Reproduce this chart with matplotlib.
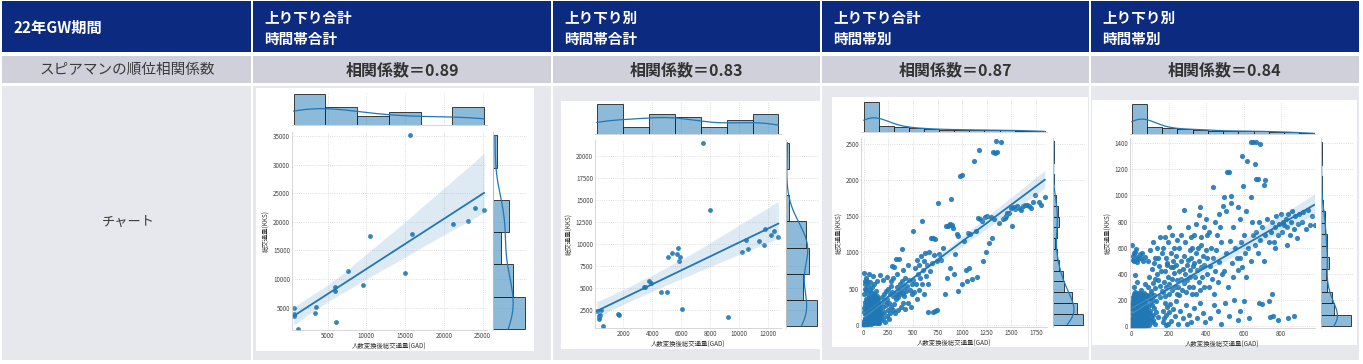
import numpy as np
import matplotlib.pyplot as plt
import seaborn as sns
from matplotlib.patches import Rectangle

# ---- table text ----
period_label = "22年GW期間"
col_titles = [("上り下り合計", "時間帯合計"), ("上り下り別", "時間帯合計"),
              ("上り下り合計", "時間帯別"), ("上り下り別", "時間帯別")]
corr_row_label = "スピアマンの順位相関係数"
corr_values = [0.89, 0.83, 0.87, 0.84]
chart_row_label = "チャート"
x_label = "人数変換後総交通量(GAD)"
y_label = "総交通量(KKS)"

# ---- chart 1: 上り下り合計 / 時間帯合計 ----
gad1 = [600, 700, 600, 650, 1200, 3450, 3400, 5900, 5900, 6100, 7600, 9550, 10500,
        15050, 15900, 15600, 21150, 23100, 24000, 25200]
kks1 = [4900, 3950, 3550, 3700, 1300, 5200, 4070, 8650, 8000, 2550, 11400, 8950, 17500,
        11150, 17850, 35100, 19700, 20100, 22400, 22050]

# ---- chart 2: 上り下り別 / 時間帯合計 ----
gad2 = [160, 400, 340, 300, 440, 620, 1650, 1700, 350, 3450, 3500, 3800, 3900, 4600, 5000,
        5100, 5350, 5700, 5800, 5900, 5850, 6050, 7500, 8000, 9200, 10150, 10450, 10600,
        11350, 11700, 11750, 12150, 12400, 12700]
kks2 = [2450, 2000, 1700, 1560, 2575, 700, 2100, 2000, 1900, 5200, 5150, 5800, 5600, 4550, 4550,
        8500, 9000, 8900, 9550, 8600, 8050, 2650, 21500, 13900, 1700, 9150, 10500, 9450,
        10400, 9900, 11700, 11050, 11450, 10800]

# ---- chart 3: 上り下り合計 / 時間帯別  (GAD, KKS) ----
pts3_origin_low = [
    (0, 0), (2, 8), (3, 30), (5, 15), (6, 45), (8, 3), (9, 70), (10, 25), (11, 18), (12, 40),
    (14, 95), (15, 8), (16, 5), (18, 60), (19, 120), (20, 15), (21, 38), (22, 90), (24, 65),
    (25, 30), (27, 140), (28, 110), (29, 10), (30, 50), (33, 88), (35, 20), (36, 115), (38, 75),
    (39, 28), (41, 52), (42, 35), (44, 78), (47, 130), (48, 55), (49, 12), (50, 100), (53, 95),
    (55, 70), (56, 35), (59, 150), (61, 20), (62, 45), (64, 110), (67, 48), (69, 80), (70, 90),
    (73, 135), (76, 15), (78, 120), (79, 60), (82, 60), (83, 100), (86, 40), (89, 125), (93, 75),
    (96, 25), (98, 110), (103, 55), (105, 140), (106, 95), (109, 35), (110, 80), (113, 120),
    (116, 65), (122, 130), (123, 20), (126, 90), (129, 45), (135, 100), (136, 70), (139, 110),
    (143, 30), (145, 150), (146, 85), (149, 55), (152, 140)]
pts3_origin_mid = [
    (4, 180), (7, 230), (13, 270), (17, 310), (23, 350), (26, 200), (31, 280), (32, 140),
    (34, 320), (37, 240), (40, 160), (43, 300), (45, 190), (46, 370), (51, 260), (52, 210),
    (54, 330), (57, 190), (58, 130), (60, 240), (63, 290), (65, 170), (66, 350), (68, 260),
    (71, 270), (72, 200), (74, 220), (75, 300), (77, 380), (80, 230), (81, 310), (84, 200),
    (85, 280), (87, 340), (88, 150), (90, 320), (91, 260), (92, 180), (94, 390), (95, 250),
    (97, 300), (100, 340), (101, 230), (102, 200), (104, 280), (107, 360), (108, 290), (111, 300),
    (112, 360), (114, 250), (115, 220), (117, 330), (118, 170), (120, 310), (121, 270), (124, 210),
    (125, 380), (127, 300), (128, 250), (130, 190), (131, 360), (132, 330), (134, 240), (137, 320),
    (138, 270), (140, 400), (141, 280), (142, 210), (144, 230), (147, 300), (148, 350), (150, 240),
    (151, 180), (154, 260)]
pts3_origin_high = [
    (5, 420), (8, 720), (10, 500), (12, 610), (15, 560), (20, 650), (25, 480), (30, 600),
    (40, 540), (45, 430), (55, 700), (60, 480), (60, 590), (70, 450), (85, 520), (95, 680),
    (100, 430), (110, 560), (130, 470), (140, 610)]
pts3_low = [
    (160, 30), (165, 120), (170, 210), (175, 300), (180, 60), (185, 380), (190, 150), (195, 250),
    (200, 90), (205, 420), (210, 180), (215, 330), (220, 40), (225, 270), (230, 460), (235, 120),
    (240, 360), (245, 210), (250, 500), (255, 80), (260, 300), (265, 420), (270, 160), (275, 540),
    (280, 250), (285, 810), (290, 450), (295, 200), (300, 390), (302, 640), (305, 290), (310, 800),
    (170, 690), (200, 620), (240, 660), (280, 600), (315, 160), (320, 420), (325, 350), (330, 910),
    (335, 520), (340, 430), (345, 200), (350, 380), (355, 470), (360, 910), (365, 560), (370, 420),
    (375, 250), (380, 480), (385, 1050), (390, 600), (395, 440), (400, 300), (405, 520), (410, 400),
    (415, 650), (420, 220), (430, 460), (440, 540), (450, 300), (460, 620), (340, 700), (400, 760),
    (450, 820)]
pts3_mid = [
    (470, 480), (480, 250), (490, 560), (495, 420), (500, 1295), (505, 620), (510, 450), (520, 780),
    (530, 560), (540, 900), (545, 350), (550, 700), (560, 820), (565, 480), (575, 640), (580, 950),
    (590, 1440), (595, 560), (600, 760), (610, 880), (615, 420), (620, 990), (630, 680), (640, 820),
    (650, 560), (655, 180), (660, 1000), (670, 740), (680, 1200), (690, 860), (700, 1200), (700, 175),
    (710, 960), (720, 1190), (720, 190), (740, 200), (740, 880), (760, 1690), (770, 980), (790, 900),
    (810, 1060), (830, 420), (840, 1370), (850, 640), (860, 1360), (870, 1380), (875, 780),
    (880, 1390), (885, 1740), (900, 1380), (910, 1340), (920, 700), (930, 980)]
pts3_high = [
    (950, 1260), (960, 1230), (975, 2060), (1000, 2070), (1000, 560), (1020, 1160), (1040, 750),
    (1060, 1270), (1070, 780), (1080, 1250), (960, 470), (1050, 600), (1100, 630), (1125, 2270),
    (1140, 1300), (1160, 1480), (1175, 2420), (1180, 1460), (1200, 1430), (1210, 880), (1230, 1490),
    (1240, 1000), (1150, 660), (1250, 1500), (1270, 1130), (1290, 1490), (1310, 2390), (1320, 1460),
    (1330, 2380), (1340, 2540), (1350, 2385), (1370, 1410), (1395, 2525), (1300, 1200),
    (1420, 1460), (1440, 1470), (1450, 1500), (1460, 1540), (1480, 1550), (1500, 1620), (1510, 1360),
    (1520, 1630), (1540, 1600), (1560, 1640), (1580, 1610), (1600, 1590), (1620, 1640), (1640, 1650),
    (1660, 1660), (1680, 1640), (1700, 1620), (1720, 1700), (1740, 1800), (1780, 1700), (1800, 1660),
    (1840, 1760)]

# ---- chart 4: 上り下り別 / 時間帯別  (GAD, KKS) ----
pts4_origin_low = [
    (0, 0), (1, 5), (2, 12), (3, 2), (4, 20), (5, 8), (6, 30), (7, 15), (8, 45), (9, 4), (10, 25),
    (11, 60), (12, 10), (13, 35), (14, 70), (15, 18), (16, 50), (17, 80), (18, 6), (19, 40), (20, 65),
    (21, 22), (22, 85), (23, 12), (24, 55), (25, 33), (26, 75), (27, 3), (28, 48), (29, 28), (30, 68),
    (31, 14), (32, 58), (33, 38), (34, 82), (35, 9), (36, 44), (37, 24), (38, 72), (39, 17), (40, 52),
    (41, 32), (42, 86), (43, 6), (44, 62), (45, 27), (46, 77), (47, 11), (48, 47), (49, 36), (50, 66),
    (51, 19), (52, 56), (53, 3), (54, 79), (55, 41), (56, 26), (57, 71), (58, 13), (59, 51), (60, 34),
    (61, 84), (62, 8), (63, 61), (64, 23), (65, 74), (66, 43), (67, 16), (68, 57), (69, 31), (70, 81),
    (71, 5), (72, 46), (73, 21), (74, 69), (75, 39), (76, 12), (77, 63), (78, 29), (79, 54), (80, 7),
    (81, 42), (82, 76), (2, 40), (4, 65), (6, 10), (9, 55), (11, 30), (14, 5), (16, 75), (19, 20),
    (21, 50), (24, 80), (26, 15), (29, 60), (31, 42), (34, 3), (36, 66), (39, 25), (41, 78), (44, 12),
    (46, 53), (49, 70), (51, 35), (54, 9), (56, 83), (59, 18), (61, 48), (64, 73), (66, 27), (69, 4),
    (71, 58), (74, 36), (76, 85), (79, 14), (3, 50), (13, 22), (23, 68), (33, 15), (43, 45), (53, 28),
    (63, 80), (73, 10), (8, 35), (18, 88)]
pts4_origin_mid = [
    (1, 100), (3, 130), (5, 160), (7, 95), (9, 140), (11, 115), (13, 170), (15, 105), (17, 150),
    (19, 125), (21, 165), (23, 92), (25, 135), (27, 110), (29, 155), (31, 98), (33, 145), (35, 120),
    (37, 172), (39, 102), (41, 138), (43, 160), (45, 90), (47, 128), (49, 150), (51, 112), (53, 168),
    (55, 96), (57, 142), (59, 118), (61, 158), (63, 105), (65, 132), (67, 170), (69, 100), (71, 148),
    (73, 122), (75, 162), (77, 94), (79, 136), (81, 110), (4, 145), (24, 118), (44, 132), (64, 150),
    (2, 180), (6, 220), (10, 250), (14, 195), (18, 240), (22, 185), (26, 230), (30, 205), (34, 255),
    (38, 190), (42, 225), (46, 245), (50, 178), (54, 210), (58, 238), (62, 200), (66, 252), (70, 185),
    (74, 228), (78, 215), (82, 240), (8, 200), (20, 260), (32, 176), (44, 210), (56, 190), (68, 230),
    (12, 235), (36, 215), (60, 182)]
pts4_origin_high = [
    (10, 300), (30, 340), (50, 280), (20, 390), (70, 320), (2, 620), (5, 540), (8, 510), (10, 560),
    (14, 500), (18, 565), (22, 590), (26, 530), (30, 490), (36, 511), (42, 550), (48, 520), (54, 557),
    (60, 500), (71, 531)]
pts4_low = [
    (84, 20), (86, 150), (88, 60), (90, 230), (92, 100), (94, 10), (96, 180), (98, 45), (100, 120),
    (102, 210), (104, 75), (106, 250), (108, 30), (110, 160), (112, 90), (114, 200), (116, 50),
    (118, 140), (120, 240), (124, 15), (128, 110), (132, 190), (140, 70), (150, 220), (89, 300),
    (95, 380), (103, 270), (109, 440), (115, 330), (121, 480), (127, 290), (133, 400), (139, 350),
    (145, 460), (151, 310), (157, 420), (161, 270), (125, 360), (89, 498), (100, 580), (115, 640),
    (125, 520), (134, 595), (143, 519), (150, 680), (160, 560), (166, 30), (170, 120), (174, 60),
    (178, 180), (182, 10), (186, 90), (190, 150), (196, 20), (200, 110), (206, 170), (212, 40),
    (220, 130), (230, 80), (240, 190), (168, 260), (172, 340), (176, 420), (180, 230), (184, 300),
    (188, 480), (192, 380), (198, 250), (202, 320), (208, 450), (214, 280), (218, 360), (222, 500),
    (226, 410), (232, 300), (236, 470), (242, 350), (191, 468), (223, 455), (244, 250), (170, 600),
    (179, 685), (185, 520), (196, 640), (200, 761), (210, 560), (218, 700), (228, 600), (235, 540),
    (244, 660)]
pts4_mid = [
    (250, 20), (260, 120), (275, 60), (290, 160), (295, 20), (305, 90), (320, 30), (248, 300),
    (252, 420), (256, 240), (262, 360), (266, 500), (270, 280), (274, 440), (278, 330), (282, 540),
    (286, 400), (290, 260), (294, 470), (298, 350), (302, 510), (306, 300), (310, 430), (314, 380),
    (318, 520), (322, 250), (326, 460), (255, 600), (265, 700), (280, 889), (288, 640), (300, 760),
    (310, 580), (318, 680), (325, 600), (335, 140), (350, 60), (365, 180), (380, 100), (393, 33),
    (330, 300), (334, 480), (338, 380), (342, 560), (346, 250), (350, 430), (354, 600), (358, 340),
    (362, 500), (366, 280), (370, 450), (374, 620), (378, 380), (382, 540), (386, 300), (390, 470),
    (396, 580), (402, 400), (406, 520), (332, 700), (345, 780), (360, 850), (366, 910), (372, 680),
    (385, 760), (398, 820), (405, 700), (420, 60), (440, 160), (460, 120), (480, 20), (412, 300),
    (418, 460), (424, 600), (430, 360), (436, 520), (442, 250), (448, 420), (454, 580), (462, 340),
    (470, 490), (478, 640), (486, 400), (415, 720), (438, 1060), (445, 800), (458, 700), (466, 860),
    (475, 760), (488, 920)]
pts4_high = [
    (500, 180), (520, 80), (550, 200), (568, 46), (495, 420), (505, 560), (515, 300), (525, 650),
    (535, 480), (545, 380), (555, 600), (562, 520), (570, 430), (497, 991), (504, 884), (509, 1178),
    (522, 1178), (530, 996), (530, 945), (545, 760), (571, 910), (580, 120), (600, 190), (630, 60),
    (578, 520), (585, 640), (592, 450), (600, 700), (608, 560), (615, 380), (625, 600), (640, 500),
    (650, 700), (589, 1298), (598, 1073), (616, 1260), (638, 1405), (639, 986), (652, 1408),
    (580, 820), (610, 880), (645, 800), (680, 180), (697, 174), (734, 192), (660, 620), (668, 720),
    (675, 560), (682, 800), (690, 660), (700, 760), (708, 500), (715, 700), (725, 820), (735, 640),
    (661, 1242), (664, 1408), (664, 1124), (688, 1393), (709, 1081), (675, 1124), (714, 1114),
    (741, 72), (759, 79), (786, 46), (750, 250), (745, 720), (752, 800), (760, 640), (768, 760),
    (775, 840), (782, 700), (790, 780), (798, 860), (805, 720), (812, 800), (818, 774), (770, 600),
    (840, 64), (872, 79), (825, 820), (832, 760), (840, 860), (848, 700), (855, 800), (861, 884),
    (868, 740), (875, 840), (886, 675), (892, 780), (898, 860), (830, 620), (910, 800), (920, 876),
    (935, 740), (946, 889), (955, 774), (968, 840), (980, 775)]

gad3, kks3 = np.array(pts3_origin_low + pts3_origin_mid + pts3_origin_high
                      + pts3_low + pts3_mid + pts3_high, float).T
gad4, kks4 = np.array(pts4_origin_low + pts4_origin_mid + pts4_origin_high
                      + pts4_low + pts4_mid + pts4_high, float).T

sns.set_style("whitegrid", {"grid.linestyle": ":", "grid.color": "#d4d4d4", "axes.edgecolor": "#d0d0d0"})
plt.rcParams["font.family"] = ["Noto Sans CJK JP", "DejaVu Sans"]
plt.rcParams["grid.linewidth"] = 0.6
plt.rcParams["axes.linewidth"] = 0.6

W, H = 1363, 364
fig = plt.figure(figsize=(W / 100, H / 100), dpi=100)


def box(x0, y0, x1, y1):
    return [x0 / W, 1 - y1 / H, (x1 - x0) / W, (y1 - y0) / H]


def cell(x0, y0, x1, y1, color):
    fig.add_artist(Rectangle((x0 / W, 1 - y1 / H), (x1 - x0) / W, (y1 - y0) / H,
                             transform=fig.transFigure, facecolor=color, edgecolor="none", zorder=0))


def put(x, y, s, **kw):
    fig.text(x / W, 1 - y / H, s, va="center", **kw)


# table cells
edges = [2, 252, 552, 821, 1090, 1359]
rows = [(1, 52), (56, 83), (86, 360)]
row_colors = ["#0b2a80", "#cfd0da", "#e7e8ed"]
for (y0, y1), color in zip(rows, row_colors):
    for i in range(5):
        x0 = edges[i] + (1 if i else 0)
        x1 = edges[i + 1] - (1 if i < 4 else 0)
        cell(x0, y0, x1, y1, color)

put(13, 28, period_label, color="white", fontsize=11, fontweight="bold")
for i, (l1, l2) in enumerate(col_titles):
    put(edges[i + 1] + 12, 18, l1, color="white", fontsize=10.5, fontweight="bold")
    put(edges[i + 1] + 12, 39, l2, color="white", fontsize=10.5, fontweight="bold")
put(127, 70, corr_row_label, color="#3a3a3a", fontsize=10.5, ha="center")
for i, v in enumerate(corr_values):
    put((edges[i + 1] + edges[i + 2]) / 2, 70, f"相関係数＝{v:.2f}", color="#333333",
        fontsize=11.5, fontweight="bold", ha="center")
put(128, 222, chart_row_label, color="#3a3a3a", fontsize=9.5, ha="center")

charts = [
    dict(x=gad1, y=kks1, bg=(256, 88, 534, 351), joint=(292, 132, 487, 330),
         top=(292, 92, 487, 125), right=(493, 132, 527, 330), xlim=(406, 25568), ylim=(1110, 35700),
         xticks=range(5000, 25001, 5000), yticks=range(5000, 35001, 5000), bins=(6, 6), s=12),
    dict(x=gad2, y=kks2, bg=(561, 101, 820, 349), joint=(595, 140, 781, 328),
         top=(595, 102, 781, 134), right=(786, 140, 819, 328), xlim=(45, 12874), ylim=(500, 21810),
         xticks=range(2000, 12001, 2000), yticks=range(2500, 20001, 2500), bins=(7, 7), s=12),
    dict(x=gad3, y=kks3, bg=(832, 97, 1088, 347), joint=(861, 138, 1047, 327),
         top=(861, 100, 1047, 132), right=(1053, 138, 1085, 327), xlim=(-27, 1862), ylim=(-32, 2583),
         xticks=range(0, 1751, 250), yticks=range(0, 2501, 500), bins=(12, 17), s=14),
    dict(x=gad4, y=kks4, bg=(1092, 100, 1357, 345), joint=(1130, 138, 1315, 328),
         top=(1130, 102, 1315, 134), right=(1321, 138, 1353, 328), xlim=(-9, 982), ylim=(-13, 1438),
         xticks=range(0, 801, 200), yticks=range(0, 1401, 200), bins=(12, 16), s=14),
]

blue = "#1f77b4"
for c in charts:
    cell(*c["bg"], "white")
    ax = fig.add_axes(box(*c["joint"]))
    ax_top = fig.add_axes(box(*c["top"]))
    ax_right = fig.add_axes(box(*c["right"]))
    x = np.asarray(c["x"], float)
    y = np.asarray(c["y"], float)

    sns.regplot(x=x, y=y, ax=ax, color=blue, seed=0,
                scatter_kws={"s": c["s"], "linewidths": 0, "alpha": 0.9}, line_kws={"lw": 1.3})
    sns.histplot(x=x, bins=c["bins"][0], kde=True, ax=ax_top, color=blue, alpha=0.5,
                 edgecolor="#222222", linewidth=0.6, line_kws={"lw": 0.9})
    sns.histplot(y=y, bins=c["bins"][1], kde=True, ax=ax_right, color=blue, alpha=0.5,
                 edgecolor="#222222", linewidth=0.6, line_kws={"lw": 0.9})

    ax.set_xlim(c["xlim"])
    ax.set_ylim(c["ylim"])
    ax.set_xticks(list(c["xticks"]))
    ax.set_yticks(list(c["yticks"]))
    ax_top.set_xlim(c["xlim"])
    ax_top.set_xticks(list(c["xticks"]))
    ax_right.set_ylim(c["ylim"])
    ax_right.set_yticks(list(c["yticks"]))

    ax.tick_params(labelsize=4.5, length=0, pad=1.5, labelcolor="#444444")
    ax.set_xlabel(x_label, fontsize=4.6, labelpad=1.5, color="#333333")
    ax.set_ylabel(y_label, fontsize=4.6, labelpad=1.5, color="#333333")
    ax.spines["top"].set_visible(False)
    ax.spines["right"].set_visible(False)

    for a in (ax_top, ax_right):
        a.set_xlabel("")
        a.set_ylabel("")
        a.tick_params(length=0, labelbottom=False, labelleft=False)
    ax_top.yaxis.grid(False)
    ax_right.xaxis.grid(False)
    for s in ("left", "top", "right"):
        ax_top.spines[s].set_visible(False)
    for s in ("bottom", "top", "right"):
        ax_right.spines[s].set_visible(False)

fig.savefig("out.png", dpi=100)
